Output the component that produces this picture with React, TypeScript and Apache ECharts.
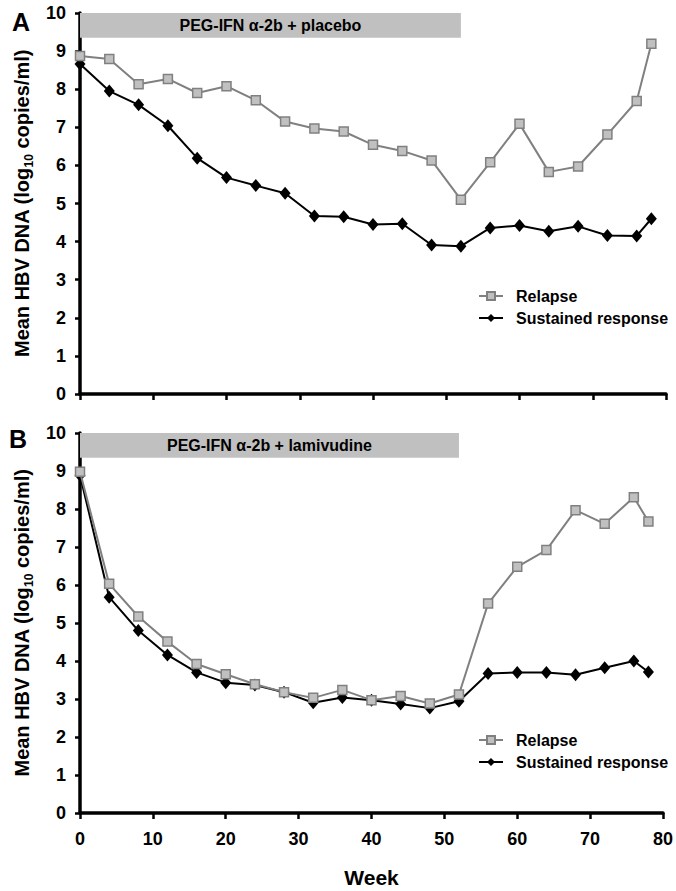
import React, { useEffect, useRef } from "react";
import * as echarts from "echarts";

const weeks = [0, 4, 8, 12, 16, 20, 24, 28, 32, 36, 40, 44, 48, 52, 56, 60, 64, 68, 72, 76, 78];
const relapseA = [8.87, 8.79, 8.13, 8.27, 7.9, 8.08, 7.71, 7.15, 6.97, 6.89, 6.54, 6.38, 6.13, 5.1, 6.08, 7.09, 5.83, 5.97, 6.81, 7.69, 9.19];
const sustainedA = [8.66, 7.95, 7.59, 7.04, 6.19, 5.68, 5.47, 5.27, 4.67, 4.65, 4.45, 4.47, 3.91, 3.88, 4.36, 4.42, 4.27, 4.4, 4.16, 4.15, 4.6];
const relapseB = [8.98, 6.03, 5.17, 4.51, 3.92, 3.65, 3.39, 3.18, 3.03, 3.24, 2.97, 3.08, 2.88, 3.12, 5.51, 6.48, 6.92, 7.97, 7.61, 8.31, 7.67];
const sustainedB = [8.89, 5.68, 4.8, 4.16, 3.7, 3.43, 3.37, 3.18, 2.9, 3.04, 2.97, 2.87, 2.76, 2.94, 3.67, 3.7, 3.7, 3.64, 3.82, 4.0, 3.71];

const seriesNames = ["Relapse", "Sustained response"];
const treatmentLabels = ["PEG-IFN α-2b + placebo", "PEG-IFN α-2b + lamivudine"];
const treatmentSpan = [0, 52];
const treatmentBand = [9.35, 10];
const panelLetters = ["A", "B"];

const FONT = "'Liberation Sans', Arial, Helvetica, sans-serif";

export default function App() {
  const ref = useRef<HTMLDivElement>(null);
  useEffect(() => {
    if (!ref.current) return;
    const chart = echarts.init(ref.current, null, { renderer: "svg" });

    const grids = [
      { left: 80, top: 13, width: 586, height: 381 },
      { left: 80, top: 433, width: 586, height: 380 },
    ];

    const xAxes = grids.map((_, i) => ({
      type: "value",
      gridIndex: i,
      min: 0,
      max: 80,
      interval: 10,
      axisLine: { show: true, onZero: false, lineStyle: { color: "#000", width: 3.5 } },
      axisTick: { show: true, length: 6, lineStyle: { color: "#000", width: 2.5 } },
      axisLabel: {
        show: i === 1,
        color: "#000",
        fontSize: 18,
        fontWeight: "bold",
        fontFamily: FONT,
        margin: 17,
      },
      splitLine: { show: false },
      name: i === 1 ? "Week" : "",
      nameLocation: "middle",
      nameGap: 54,
      nameTextStyle: { color: "#000", fontSize: 21, fontWeight: "bold", fontFamily: FONT },
    }));

    const yAxes = grids.map((_, i) => ({
      type: "value",
      gridIndex: i,
      min: 0,
      max: 10,
      interval: 1,
      axisLine: { show: true, lineStyle: { color: "#000", width: 3.5 } },
      axisTick: { show: true, length: 5, lineStyle: { color: "#000", width: 2.5 } },
      axisLabel: { color: "#000", fontSize: 18, fontWeight: "bold", fontFamily: FONT, margin: 14 },
      splitLine: { show: false },
      name: "{t|Mean HBV DNA (log}{s|10}{t| copies/ml)}",
      nameLocation: "middle",
      nameRotate: 90,
      nameGap: 48,
      nameTextStyle: {
        color: "#000",
        fontFamily: FONT,
        fontWeight: "bold",
        rich: {
          t: { fontSize: 20, fontWeight: "bold", fontFamily: FONT, color: "#000", lineHeight: 22, verticalAlign: "bottom" },
          s: { fontSize: 12, fontWeight: "bold", fontFamily: FONT, color: "#000", lineHeight: 22, verticalAlign: "bottom", padding: [0, 0, -3, 0] },
        },
      },
    }));

    const relapseStyle = (i: number, data: number[]) => ({
      name: seriesNames[0],
      type: "line",
      xAxisIndex: i,
      yAxisIndex: i,
      data: weeks.map((w, k) => [w, data[k]]),
      symbol: "rect",
      symbolSize: 9,
      lineStyle: { color: "#808080", width: 2 },
      itemStyle: { color: "#c0c0c0", borderColor: "#808080", borderWidth: 1.5 },
      z: 3,
      markArea: {
        silent: true,
        itemStyle: { color: "#c0c0c0", opacity: 1 },
        label: {
          show: true,
          position: "inside",
          color: "#000",
          fontSize: 16,
          fontWeight: "bold",
          fontFamily: FONT,
        },
        data: [
          [
            { name: treatmentLabels[i], xAxis: treatmentSpan[0], yAxis: treatmentBand[1] },
            { xAxis: treatmentSpan[1], yAxis: treatmentBand[0] },
          ],
        ],
      },
    });

    const sustainedStyle = (i: number, data: number[]) => ({
      name: seriesNames[1],
      type: "line",
      xAxisIndex: i,
      yAxisIndex: i,
      data: weeks.map((w, k) => [w, data[k]]),
      symbol: "diamond",
      symbolSize: [11, 13],
      lineStyle: { color: "#000", width: 2 },
      itemStyle: { color: "#000" },
      z: 2,
    });

    const legends = [283, 727].map((top) => ({
      orient: "vertical",
      left: 473,
      top,
      itemWidth: 24,
      itemHeight: 10,
      itemGap: 6,
      data: seriesNames,
      selectedMode: false,
      textStyle: {
        color: "#000",
        fontSize: 16,
        fontWeight: "bold",
        fontFamily: FONT,
        padding: [0, 0, 0, 8],
      },
    }));

    chart.setOption({
      animation: false,
      backgroundColor: "#fff",
      grid: grids,
      xAxis: xAxes,
      yAxis: yAxes,
      legend: legends,
      series: [
        sustainedStyle(0, sustainedA),
        relapseStyle(0, relapseA),
        sustainedStyle(1, sustainedB),
        relapseStyle(1, relapseB),
      ],
      graphic: [
        {
          type: "text",
          left: 12,
          top: 9,
          style: { text: panelLetters[0], fontSize: 25, fontWeight: "bold", fontFamily: FONT, fill: "#000" },
        },
        {
          type: "text",
          left: 9,
          top: 426,
          style: { text: panelLetters[1], fontSize: 25, fontWeight: "bold", fontFamily: FONT, fill: "#000" },
        },
      ],
    });
    return () => chart.dispose();
  }, []);
  return <div ref={ref} style={{ width: 676, height: 891, position: "absolute", left: 0, top: 0 }} />;
}
